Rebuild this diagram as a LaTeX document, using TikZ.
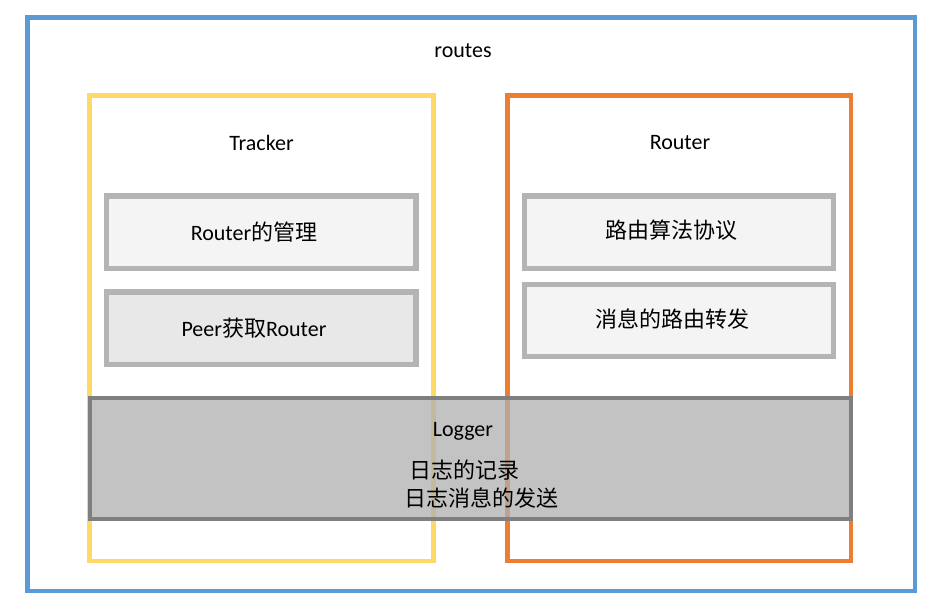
\documentclass[tikz,border=0pt]{standalone}
\usepackage{fontspec}
\setmainfont{Carlito}
\newfontfamily\cjkfont{Noto Sans CJK SC}
\usepackage{tikz}
\usetikzlibrary{fit}

\definecolor{routesblue}{RGB}{91,155,213}
\definecolor{trackeryellow}{RGB}{255,217,102}
\definecolor{routerorange}{RGB}{237,125,49}
\definecolor{itemline}{RGB}{180,180,180}
\definecolor{itemfill}{RGB}{244,244,244}
\definecolor{peerfill}{RGB}{232,232,232}
\definecolor{loggerline}{RGB}{127,127,127}
\definecolor{loggerfill}{RGB}{175,175,175}
\newcommand{\zh}[1]{{\cjkfont #1}}

\begin{document}
\begin{tikzpicture}[x=0.75pt,y=-0.75pt,
                    boxframe/.style={draw,line width=3.6pt,inner sep=0pt},
                    itembox/.style={boxframe,draw=itemline,fill=itemfill,line width=3.8pt},
                    txt/.style={anchor=base,inner sep=0pt,font=\fontsize{16.5}{20}\selectfont}]
  \useasboundingbox (0,0) rectangle (945,609);

  % frames
  \node[boxframe,draw=routesblue,fit={(27.5,17.5) (915,591)}]      (routes)  {};
  \node[boxframe,draw=trackeryellow,fit={(89.5,95.5) (433.5,561)}] (tracker) {};
  \node[boxframe,draw=routerorange,fit={(507.5,95.5) (851,561)}]   (router)  {};

  \node[itembox,fit={(106.5,196) (416,268.5)}]               (manage)  {};
  \node[itembox,fill=peerfill,fit={(106.5,292) (416,364.5)}] (peer)    {};
  \node[itembox,fit={(524.5,196) (833.5,268.5)}]             (algo)    {};
  \node[itembox,fit={(524.5,284.5) (833.5,356.5)}]           (forward) {};

  \node[boxframe,draw=loggerline,fill=loggerfill,fill opacity=0.75,line width=3pt,
        fit={(90,398) (851,519)}] (logger) {};

  % texts
  \node[txt] (routes text)  at (463,58)    {routes};
  \node[txt] (tracker text) at (261.5,151) {Tracker};
  \node[txt] (router text)  at (680,150)   {Router};
  \node[txt] (manage text)  at (254,241)   {Router\zh{的管理}};
  \node[txt] (peer text)    at (254,336)   {Peer\zh{获取}Router};
  \node[txt] (algo text)    at (671.5,239) {\zh{路由算法协议}};
  \node[txt] (forward text) at (672,328)   {\zh{消息的路由转发}};
  \node[txt] (logger text)  at (463,436)   {Logger};
  \node[txt] (log one)      at (464,478)   {\zh{日志的记录}};
  \node[txt] (log two)      at (481,506)   {\zh{日志消息的发送}};
\end{tikzpicture}
\end{document}
